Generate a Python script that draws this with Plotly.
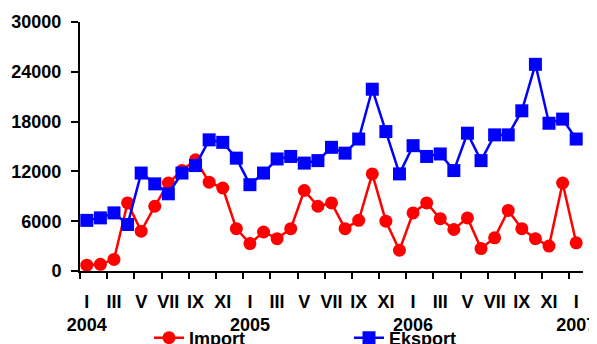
import plotly.graph_objects as go

months = ["I", "II", "III", "IV", "V", "VI", "VII", "VIII", "IX", "X", "XI", "XII"] * 3 + ["I"]
years = [2004] * 12 + [2005] * 12 + [2006] * 12 + [2007]

import_vals = [700, 800, 1400, 8200, 4800, 7800, 10600, 12100, 13400, 10700,
               10000, 5100, 3300, 4700, 3900, 5100, 9700, 7800, 8200, 5100,
               6100, 11700, 6000, 2500, 7000, 8200, 6300, 5000, 6400, 2700,
               4000, 7300, 5100, 3900, 3000, 10600, 3400]
export_vals = [6100, 6400, 7000, 5600, 11800, 10500, 9300, 11800, 12700, 15800,
               15500, 13600, 10400, 11800, 13500, 13800, 13000, 13300, 14900, 14200,
               15900, 21900, 16800, 11700, 15100, 13800, 14100, 12100, 16600, 13300,
               16400, 16400, 19300, 24900, 17800, 18300, 15900]
y_ticks = [0, 6000, 12000, 18000, 24000, 30000]

x = list(range(len(months)))
tickvals = x[::2]
ticktext = [months[i] + ("<br>" + str(years[i]) if months[i] == "I" else "") for i in tickvals]

FONT = dict(family="Liberation Sans, Arial, sans-serif", size=18, color="black", weight="bold")

# page body has an 8px default margin; size the figure to fit the 597x344 window
W, H = 589, 336

fig = go.Figure()
fig.add_trace(go.Scatter(
    x=x, y=import_vals, name="Import", mode="lines+markers",
    line=dict(color="#FF0000", width=2.5),
    marker=dict(symbol="circle", size=13, color="#FF0000"),
))
fig.add_trace(go.Scatter(
    x=x, y=export_vals, name="Eksport", mode="lines+markers",
    line=dict(color="#0000FF", width=2.5),
    marker=dict(symbol="square", size=13, color="#0000FF"),
))

fig.update_layout(
    width=W, height=H,
    margin=dict(l=72, r=14, t=14, b=73),
    paper_bgcolor="white", plot_bgcolor="white",
    font=FONT,
    showlegend=True,
    legend=dict(
        orientation="h", xref="container", yref="container",
        x=141 / W, y=6 / H, xanchor="left", yanchor="middle",
        entrywidth=155, entrywidthmode="pixels",
        font=FONT, bgcolor="rgba(0,0,0,0)",
    ),
    xaxis=dict(
        range=[-0.5, len(x) - 0.5],
        tickmode="array", tickvals=tickvals, ticktext=ticktext,
        tickangle=0, automargin=False,
        ticks="", showgrid=False, zeroline=False,
        showline=True, linecolor="black", linewidth=2,
        ticklabelstandoff=13,
        tickfont=FONT,
        minor=dict(tick0=-0.5, dtick=2, ticks="outside", ticklen=6,
                   tickwidth=2, tickcolor="black", showgrid=False),
    ),
    yaxis=dict(
        range=[0, 30000], automargin=False,
        tickmode="array", tickvals=y_ticks, ticktext=[str(v) for v in y_ticks],
        ticks="outside", ticklen=7, tickwidth=2, tickcolor="black",
        showgrid=False, zeroline=False,
        showline=True, linecolor="black", linewidth=2,
        ticklabelstandoff=6,
        tickfont=FONT,
    ),
)

fig.write_html("out.html")
